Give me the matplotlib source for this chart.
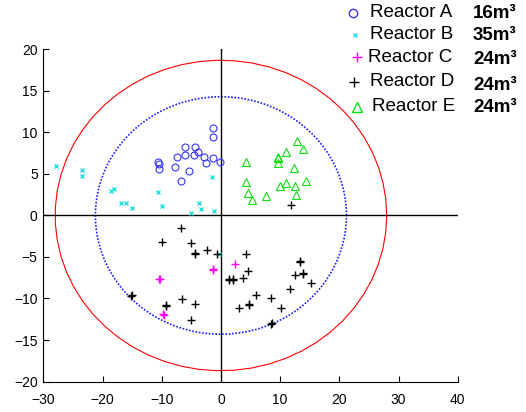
import numpy as np
import matplotlib
matplotlib.use('Agg')
import matplotlib.pyplot as plt
from matplotlib.lines import Line2D

plt.rcParams['font.family'] = ['Liberation Sans', 'DejaVu Sans']

# score values
a_x = [-10.7, -10.5, -10.4, -7.7, -7.4, -6.7, -6.0, -6.0, -5.4, -4.5, -4.4, -3.8, -2.9, -2.6, -1.4, -1.4, -1.3, -0.2]
a_y = [6.4, 6.2, 5.6, 5.8, 7.0, 4.1, 7.3, 8.2, 5.3, 7.3, 8.3, 7.6, 7.0, 6.3, 9.4, 10.5, 6.9, 6.5]

b_x = [-27.8, -23.5, -23.5, -18.5, -18.1, -16.8, -16.0, -15.1, -10.7, -9.9, -5.1, -3.7, -3.3, -1.5, -1.1, -0.4]
b_y = [6.0, 5.5, 4.7, 3.0, 3.2, 1.5, 1.5, 0.9, 2.8, 1.1, 0.3, 1.5, 0.8, 4.6, 0.5, -4.6]

c_x = [-10.4, -10.3, -9.7, -9.6, -1.4, -1.3, 2.3]
c_y = [-7.6, -7.7, -11.9, -12.0, -6.5, -6.6, -5.9]

d_x = [-6.8, -9.9, -5.1, -4.4, -4.3, -2.4, -0.6, 4.2, 4.6, 1.3, 1.4, 2.0, 2.0, 3.7, 6.0, 8.5,
       4.7, 4.8, 3.1, 10.1, 8.5, 8.6, -15.2, -15.1, -9.2, -9.3, -6.6, -4.3, -5.0, 13.3, 13.4,
       12.5, 13.8, 13.9, 15.2, 11.6, 11.8]
d_y = [-1.5, -3.2, -3.3, -4.5, -4.6, -4.1, -4.6, -4.7, -6.7, -7.7, -7.8, -7.7, -7.8, -7.5, -9.6, -10.0,
       -10.8, -10.7, -11.2, -11.2, -13.1, -13.0, -9.7, -9.6, -10.8, -10.9, -10.1, -10.7, -12.6, -5.6, -5.5,
       -7.2, -7.0, -6.9, -8.1, -8.9, 1.3]

e_x = [12.9, 13.8, 11.0, 9.6, 9.6, 9.7, 4.2, 12.3, 4.2, 10.0, 11.0, 12.5, 14.3, 4.5, 5.2, 7.6, 12.6]
e_y = [9.0, 8.0, 7.6, 7.1, 6.9, 6.3, 6.4, 5.7, 4.0, 3.6, 3.9, 3.5, 4.1, 2.7, 1.9, 2.4, 2.5]

# confidence ellipses (semi-axes)
outer_rx, outer_ry = 28.0, 18.7
inner_rx, inner_ry = 21.2, 14.3

labels = ['Reactor A', 'Reactor B', 'Reactor C', 'Reactor D', 'Reactor E']
volumes = ['16m³', '35m³', '24m³', '24m³', '24m³']

fig = plt.figure(figsize=(5.26, 4.12), dpi=100)
ax = fig.add_axes([0.0823, 0.074, 0.788, 0.806])

t = np.linspace(0, 2 * np.pi, 60)
ax.plot(outer_rx * np.cos(t), outer_ry * np.sin(t), color='red', lw=0.8)
t2 = np.linspace(0, 2 * np.pi, 400)
ax.plot(inner_rx * np.cos(t2), inner_ry * np.sin(t2), color='#1a1aff',
        lw=1.2, linestyle=(0, (1, 1)))

ax.axhline(0, color='black', lw=1)
ax.axvline(0, color='black', lw=1)

ax.plot(a_x, a_y, 'o', mfc='none', mec='#3535f0', ms=5, mew=0.8)
ax.plot(b_x, b_y, 'x', color='#20e0e0', ms=3, mew=1)
ax.plot(c_x, c_y, '+', color='#ff00ff', ms=6, mew=1)
ax.plot(d_x, d_y, '+', color='black', ms=6, mew=1)
ax.plot(e_x, e_y, '^', mfc='none', mec='#10e010', ms=5.5, mew=0.8)

ax.set_xlim(-30, 40)
ax.set_ylim(-20, 20)
ax.set_xticks(np.arange(-30, 41, 10))
ax.set_yticks(np.arange(-20, 21, 5))
for s in ['top', 'right']:
    ax.spines[s].set_visible(False)
ax.tick_params(direction='in', length=4, labelsize=10)
ax.tick_params(axis='x', pad=8)
ax.tick_params(axis='y', pad=4)
ax.patch.set_alpha(0)

# legend, drawn by hand above the axes
row_y = [12.7, 34.5, 57.3, 81.7, 106.7]
vol_y = [13.3, 36.0, 60.0, 85.0, 108.0]
text_x = [370, 370, 368, 370, 372]
mk = [('o', '#3535f0', 6, 'none'), ('x', '#20e0e0', 3, None), ('+', '#ff00ff', 6.5, None),
      ('+', 'black', 6.5, None), ('^', '#10e010', 7.5, 'none')]
mk_x = [352.7, 355, 356.7, 354.3, 356.7]
W, H = 526.0, 412.0
for i in range(5):
    m, c, s, fc = mk[i]
    ln = Line2D([mk_x[i] / W], [1 - row_y[i] / H], marker=m, ms=s, color=c,
                mfc=fc if fc else c, mec=c, mew=1, transform=fig.transFigure)
    fig.lines.append(ln)
    fig.text(text_x[i] / W, 1 - row_y[i] / H, labels[i], fontsize=13.5, va='center', ha='left')
    fig.text(473 / W, 1 - vol_y[i] / H, volumes[i], fontsize=13.5, fontweight='bold',
             va='center', ha='left')

fig.savefig('out.png', dpi=100)
